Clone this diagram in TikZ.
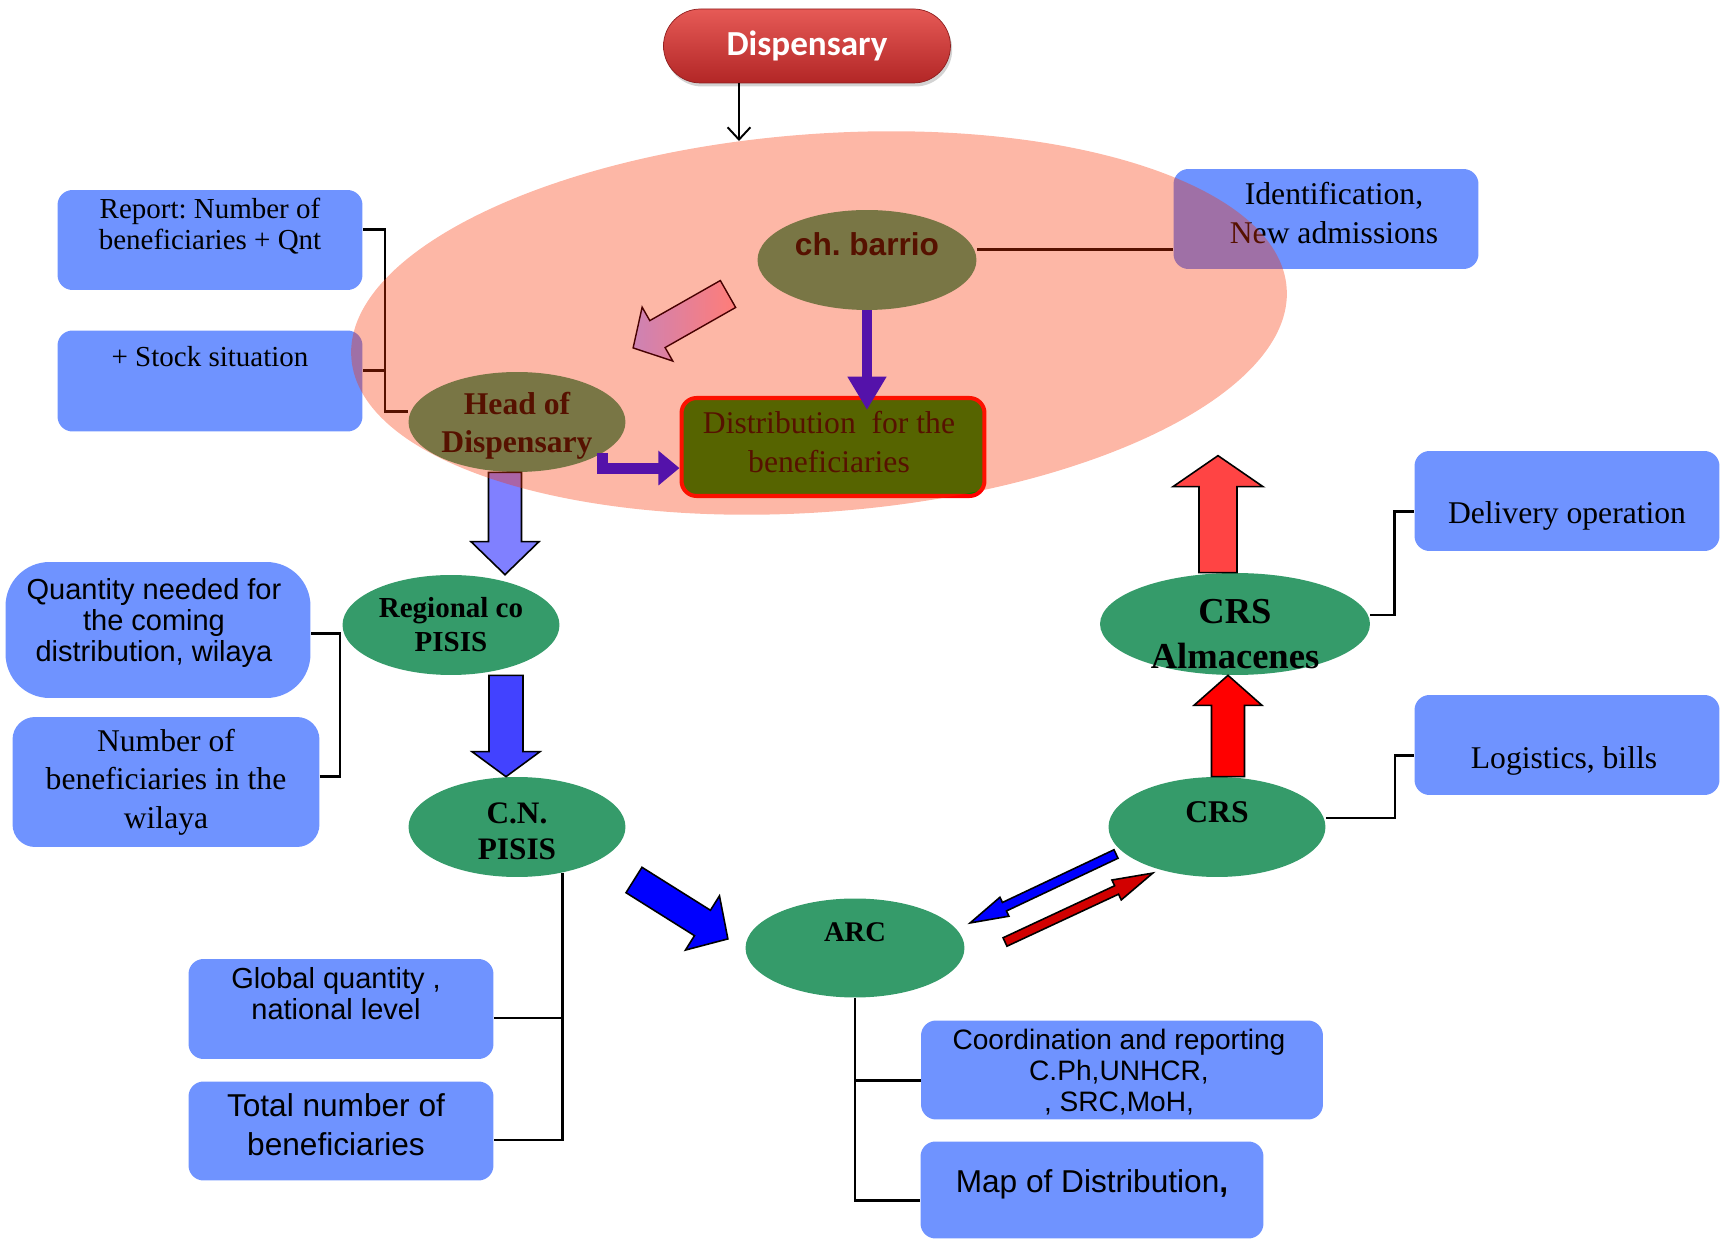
\documentclass[tikz,border=0pt]{standalone}
\usepackage{fontspec}
\setmainfont{Liberation Serif}
\newfontfamily\arialfont{Liberation Sans}
\newfontfamily\calibrifont{Carlito}
\usepackage{tikz}
\usetikzlibrary{positioning,shapes.geometric,calc,arrows.meta,shadows}
\frenchspacing

\definecolor{boxblue}{RGB}{111,147,255}
\definecolor{seagreen}{RGB}{53,155,106}
\definecolor{distgreen}{RGB}{0,128,0}
\definecolor{salmonveil}{RGB}{249,49,0}
\definecolor{purplearr}{RGB}{84,18,170}
\definecolor{lavender}{RGB}{128,128,255}
\definecolor{midblue}{RGB}{66,66,255}
\definecolor{lightred}{RGB}{255,68,68}
\definecolor{darkred}{RGB}{210,0,0}
\definecolor{pinkA}{RGB}{255,125,120}
\definecolor{pinkB}{RGB}{205,130,180}
\definecolor{pillA}{RGB}{230,90,86}
\definecolor{pillB}{RGB}{178,38,38}

% fat arrow: [style]{from}{to}{shaft half width}{head half width}{head length}
\newcommand{\blockarrow}[6][]{%
  \path let \p1=(#2), \p2=(#3) in
    \pgfextra{\pgfmathsetmacro\tmpa{atan2(\y2-\y1,\x2-\x1)}\global\let\baang\tmpa
      \pgfmathsetmacro\tmpb{veclen(\x2-\x1,\y2-\y1)}\global\let\balen\tmpb
      \xdef\bax{\x1}\xdef\bay{\y1}};
  \begin{scope}[shift={(\bax,\bay)},rotate=\baang]
    \draw[#1] (0pt,-#4) -- ({\balen pt-#6},-#4) -- ({\balen pt-#6},-#5) -- (\balen pt,0pt)
      -- ({\balen pt-#6},#5) -- ({\balen pt-#6},#4) -- (0pt,#4) -- cycle;
  \end{scope}}

\tikzset{
  infobox/.style={fill=boxblue, rounded corners=0.3cm, inner sep=0pt,
    minimum width=6.1cm, minimum height=2cm},
  greenell/.style={ellipse, fill=seagreen, inner sep=0pt,
    minimum width=4.34cm, minimum height=2cm},
  conn/.style={line width=1.4pt},
  outlined/.style={draw=black, line width=0.9pt, line join=miter},
  purplearrow/.style={draw=purplearr, line width=6.2pt},
  tnr/.style={align=center, inner sep=0pt, font=\fontsize{18}{21.8}\selectfont},
  tnrs/.style={align=center, inner sep=0pt, font=\fontsize{16.5}{17.8}\selectfont},
  tnrb/.style={align=center, inner sep=0pt, font=\bfseries\fontsize{18}{21.6}\selectfont},
  ari/.style={align=center, inner sep=0pt, font=\arialfont\fontsize{16.5}{17.8}\selectfont},
  arib/.style={align=center, inner sep=0pt, font=\arialfont\fontsize{18}{22.2}\selectfont},
}

\begin{document}
\begin{tikzpicture}[x=0.02cm, y=-0.02cm]
\useasboundingbox (0,0) rectangle (1729,1239);

% top
\node[rounded corners=0.74cm, minimum width=5.74cm, minimum height=1.48cm,
  top color=pillA, bottom color=pillB, draw=pillB!80!black, text=white,
  font=\calibrifont\bfseries\fontsize{20}{24}\selectfont,
  drop shadow={shadow xshift=1pt, shadow yshift=-2pt, opacity=0.35}] (pill) at (807,46) {Dispensary};
\coordinate (vtip) at (739,141);
\draw[line width=1.1pt, -{Straight Barb[length=7pt,width=13pt]}] (pill.south -| vtip) -- (vtip);

% boxes
\node[infobox] (report) at (210,240) {};
\node[infobox, minimum height=2.02cm] (stock) at (210,381) {};
\node[infobox] (ident) at (1326,219) {};
\node[infobox, rounded corners=0.88cm, minimum height=2.72cm] (quant) at (158,630) {};
\node[infobox, rounded corners=0.45cm, minimum width=6.14cm, minimum height=2.6cm] (number) at (166,782) {};
\node[infobox] (glob) at (341,1009) {};
\node[infobox, minimum height=1.98cm] (total) at (341,1131) {};
\node[infobox, minimum width=8.04cm, minimum height=1.98cm] (coord) at (1122,1070) {};
\node[infobox, minimum width=6.86cm, minimum height=1.94cm] (mapb) at (1092,1190) {};
\node[infobox] (deliv) at (1567,501) {};
\node[infobox] (logi) at (1567,745) {};

% ellipses
\node[greenell, minimum width=4.38cm] (barrio) at (867,260) {};
\node[greenell] (head) at (517,422) {};
\node[greenell] (reg) at (451,625) {};
\node[greenell] (cn) at (517,827) {};
\node[greenell, minimum width=4.38cm, minimum height=1.98cm] (arc) at (855,948) {};
\node[greenell] (crs) at (1217,827) {};
\node[greenell, minimum width=5.4cm, minimum height=2.04cm] (alm) at (1235,624) {};
\node[fill=distgreen, draw=red, line width=2.3pt, rounded corners=0.3cm, inner sep=0pt,
  minimum width=6.06cm, minimum height=1.96cm] (distr) at (833,447) {};

% texts
\node[tnrs] (reportT) at ($(report)+(0,-14)$) {Report: Number of\\beneficiaries + Qnt};
\node[tnrs] (stockT) at ($(stock)+(0,-24)$) {+ Stock situation};
\node[tnr] (identT) at ($(ident)+(8,-6)$) {Identification,\\New admissions};
\node[ari] (quantT) at ($(quant)+(-4,-7)$) {Quantity needed for\\the coming\\distribution, wilaya};
\node[tnr] (numberT) at (number) {Number of\\beneficiaries in the\\wilaya};
\node[ari] (globT) at ($(glob)+(-5,-15)$) {Global quantity ,\\national level};
\node[arib] (totalT) at ($(total)+(-5,-6)$) {Total number of\\beneficiaries};
\node[ari, font=\arialfont\fontsize{16}{17.6}\selectfont] (coordT) at ($(coord)+(-3,2)$) {Coordination and reporting\\C.Ph,UNHCR,\\, SRC,MoH,};
\node[arib] (mapT) at ($(mapb)+(0,-6)$) {Map of Distribution\textbf{,}};
\node[tnr] (delivT) at ($(deliv)+(0,15)$) {Delivery operation};
\node[tnr] (logiT) at ($(logi)+(-3,16)$) {Logistics, bills};
\node[tnr] (distrT) at ($(distr)+(-4,-5)$) {Distribution\ \ for the\\beneficiaries};
\node[font=\arialfont\bfseries\fontsize{18}{22}\selectfont, inner sep=0pt] (barrioT) at ($(barrio)+(0,-16)$) {ch. barrio};
\node[tnrb] (headT) at ($(head)+(0,4)$) {Head of\\Dispensary};
\node[tnrb, font=\bfseries\fontsize{16.5}{19.3}\selectfont] (regT) at (reg) {Regional co\\PISIS};
\node[tnrb, font=\bfseries\fontsize{17.8}{20.5}\selectfont] (cnT) at ($(cn)+(0,4)$) {C.N.\\PISIS};
\node[tnrb, font=\bfseries\fontsize{16.2}{19}\selectfont] (arcT) at ($(arc)+(0,-16)$) {ARC};
\node[tnrb] (crsT) at ($(crs)+(0,-15)$) {CRS};
\node[tnrb, font=\bfseries\fontsize{20.8}{25.6}\selectfont] (almT) at ($(alm)+(0,10)$) {CRS\\Almacenes};

% connectors
\draw[conn] ([yshift=6pt]report.east) -- ++(22,0) |- ([yshift=6pt]head.west);
\draw[conn] ([yshift=6pt]stock.east) -- ++(22,0);
\draw[conn] ([yshift=6pt]barrio.east) -- ([yshift=6pt]barrio.east -| ident.west);
\draw[conn] ([yshift=3pt]number.east) -- ++(20,0) |- ([yshift=-2pt]quant.east);
\draw[conn] (cn.-45) |- ([yshift=-5pt]total.east);
\draw[conn] ([yshift=-5pt]glob.east) -- ([yshift=-5pt]glob.east -| cn.-45);
\draw[conn] (arc.south) |- ([yshift=-6pt]mapb.west);
\draw[conn] ([yshift=-6pt]coord.west) -- ([yshift=-6pt]coord.west -| arc.south);
\draw[conn] ([yshift=5pt]alm.east) -- ++(24,0) |- ([yshift=-6pt]deliv.west);
\draw[conn] ([yshift=5pt]crs.east) -- ++(69,0) |- ([yshift=-6pt]logi.west);

\blockarrow[outlined, fill=lavender]{$(head.south)+(-12,0)$}{$(reg.north)+(54,0)$}{0.33cm}{0.68cm}{0.66cm}

% veil
\fill[salmonveil, fill opacity=0.35, rotate around={4.3:(819,323)}] (819,323) ellipse [x radius=469, y radius=189];

\draw[purplearrow, -{Triangle[length=19pt,width=21pt]}] (barrio.south) -- ($(distr.north -| barrio.south)+(0,14)$);
\draw[purplearrow, -{Triangle[length=12pt,width=19pt]}] (head.-20) |- ([yshift=-12pt]distr.west);
\blockarrow[draw=black!60!red!70!black, line width=0.8pt, left color=pinkB, right color=pinkA]{$(barrio)+(-139,34)$}{$(head)+(116,-74)$}{0.31cm}{0.62cm}{0.56cm}

\blockarrow[outlined, fill=midblue]{$(reg.south)+(55,0)$}{$(cn.north)+(-11,0)$}{0.34cm}{0.68cm}{0.5cm}
\blockarrow[outlined, fill=blue]{$(cn)+(117,53)$}{$(arc)+(-127,-9)$}{0.3cm}{0.64cm}{0.6cm}
\blockarrow[outlined, fill=blue]{$(crs)+(-101,27)$}{$(arc)+(115,-25)$}{0.094cm}{0.21cm}{0.76cm}
\blockarrow[outlined, fill=darkred]{$(arc)+(150,-6)$}{$(crs)+(-64,46)$}{0.093cm}{0.22cm}{0.8cm}
\blockarrow[outlined, fill=red]{$(crs.north)+(11,0)$}{$(alm.south)+(-7,0)$}{0.33cm}{0.68cm}{0.6cm}
\coordinate (uptip) at ($(alm.north)+(-17,-117)$);
\blockarrow[outlined, fill=lightred]{$(alm.north)+(-17,0)$}{uptip}{0.38cm}{0.9cm}{0.62cm}
\end{tikzpicture}
\end{document}
